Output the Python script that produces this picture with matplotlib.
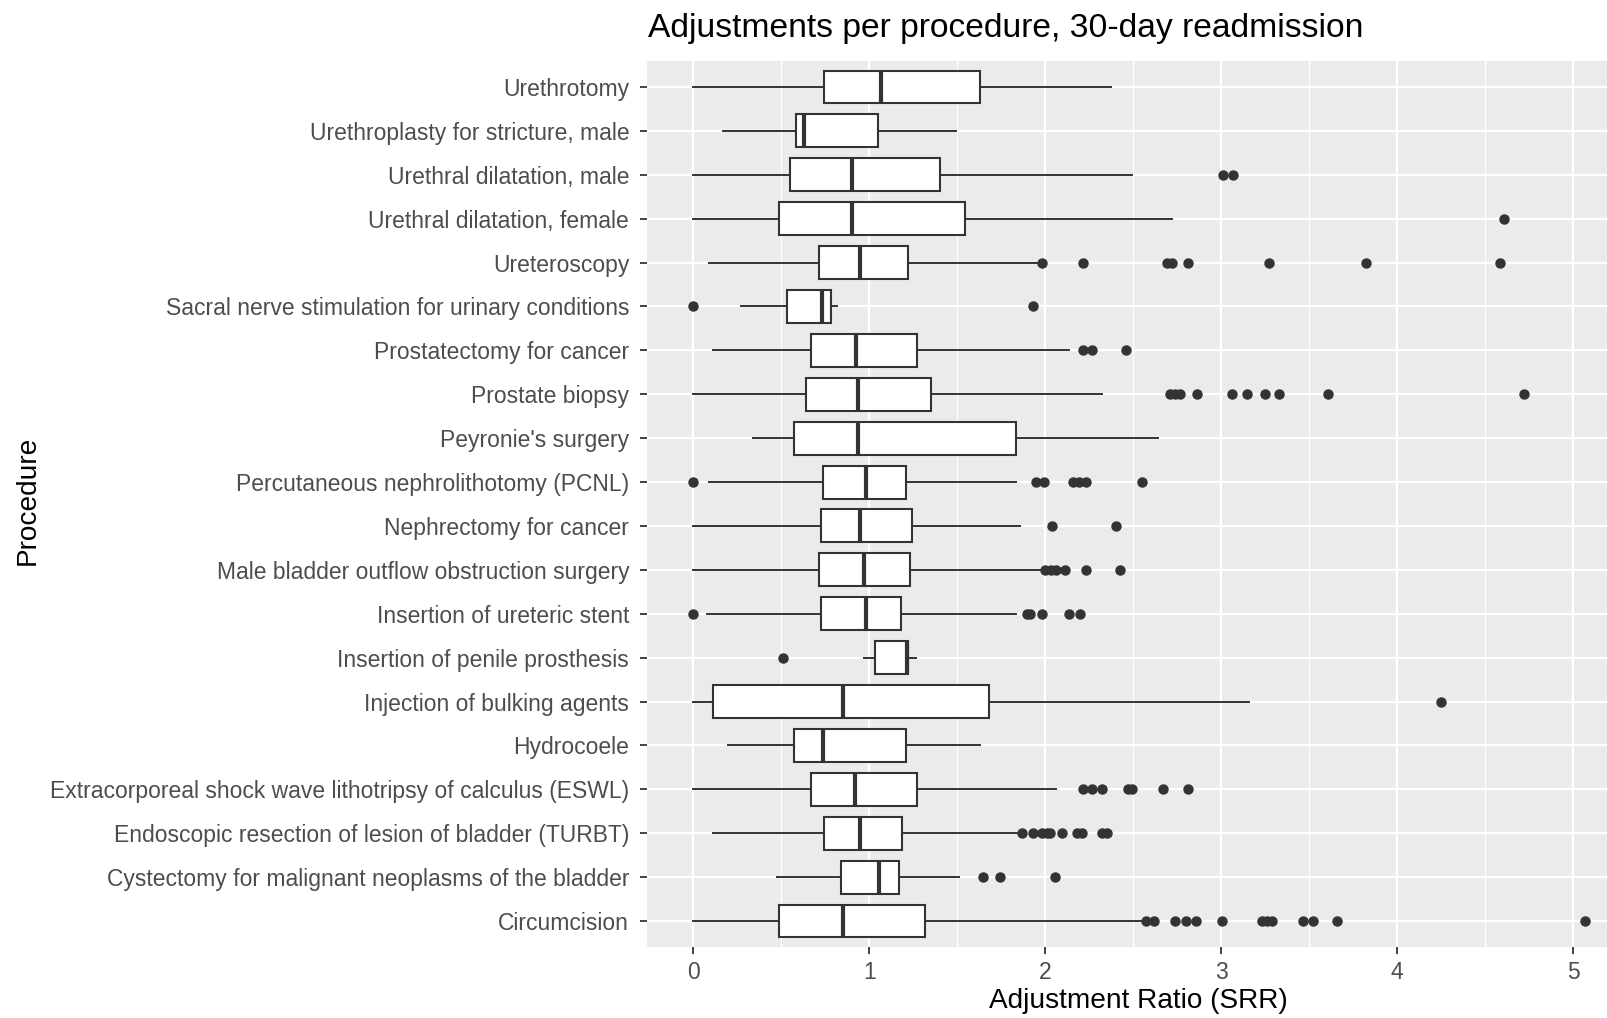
import matplotlib
matplotlib.use("Agg")
import matplotlib.pyplot as plt
from matplotlib.ticker import FixedLocator

categories = [
    "Circumcision",
    "Cystectomy for malignant neoplasms of the bladder",
    "Endoscopic resection of lesion of bladder (TURBT)",
    "Extracorporeal shock wave lithotripsy of calculus (ESWL)",
    "Hydrocoele",
    "Injection of bulking agents",
    "Insertion of penile prosthesis",
    "Insertion of ureteric stent",
    "Male bladder outflow obstruction surgery",
    "Nephrectomy for cancer",
    "Percutaneous nephrolithotomy (PCNL)",
    "Peyronie's surgery",
    "Prostate biopsy",
    "Prostatectomy for cancer",
    "Sacral nerve stimulation for urinary conditions",
    "Ureteroscopy",
    "Urethral dilatation, female",
    "Urethral dilatation, male",
    "Urethroplasty for stricture, male",
    "Urethrotomy",
]

whislo = [0, 0.474, 0.110, 0, 0.195, 0, 0.970, 0.076, 0, 0, 0.089, 0.338, 0, 0.110, 0.271, 0.089, 0, 0, 0.170, 0]
q1 = [0.487, 0.841, 0.744, 0.670, 0.572, 0.114, 1.034, 0.724, 0.714, 0.724, 0.735, 0.574, 0.639, 0.670, 0.531, 0.714, 0.487, 0.551, 0.584, 0.744]
med = [0.849, 1.053, 0.945, 0.920, 0.740, 0.849, 1.214, 0.980, 0.972, 0.947, 0.980, 0.936, 0.934, 0.924, 0.730, 0.945, 0.902, 0.900, 0.631, 1.065]
q3 = [1.316, 1.167, 1.188, 1.273, 1.210, 1.682, 1.222, 1.178, 1.231, 1.241, 1.210, 1.834, 1.349, 1.273, 0.781, 1.220, 1.542, 1.403, 1.049, 1.629]
whishi = [2.557, 1.511, 1.843, 2.061, 1.631, 3.159, 1.264, 1.834, 1.989, 1.856, 1.834, 2.642, 2.320, 2.136, 0.815, 1.951, 2.718, 2.494, 1.493, 2.373]

fliers = [
    [2.572, 2.617, 2.735, 2.799, 2.856, 3.004, 3.229, 3.257, 3.286, 3.462, 3.519, 3.659, 5.066],
    [1.648, 1.743, 2.055],
    [1.866, 1.928, 1.980, 2.008, 2.027, 2.093, 2.178, 2.207, 2.320, 2.349],
    [2.212, 2.267, 2.322, 2.472, 2.491, 2.670, 2.809],
    [],
    [4.248],
    [0.511],
    [0.0, 1.894, 1.913, 1.983, 2.134, 2.197],
    [2.000, 2.030, 2.060, 2.112, 2.230, 2.424],
    [2.036, 2.402],
    [0.0, 1.947, 1.994, 2.159, 2.193, 2.230, 2.551],
    [],
    [2.709, 2.737, 2.766, 2.864, 3.059, 3.144, 3.250, 3.326, 3.605, 4.722],
    [2.216, 2.264, 2.457],
    [0.0, 1.928],
    [1.983, 2.216, 2.690, 2.720, 2.809, 3.271, 3.820, 4.584],
    [4.604],
    [3.011, 3.068],
    [],
    [],
]

x_ticks = [0, 1, 2, 3, 4, 5]
title = "Adjustments per procedure, 30-day readmission"
xlabel = "Adjustment Ratio (SRR)"
ylabel = "Procedure"

plt.rcParams['font.family'] = ['Liberation Sans', 'DejaVu Sans']

W, H = 1608, 1018
fig = plt.figure(figsize=(W / 100, H / 100), dpi=100)
left, right, top, bottom = 647.3, 1608, 60.7, 947.3
ax = fig.add_axes([left / W, 1 - bottom / H, (right - left) / W, (bottom - top) / H])

stats = []
for i in range(len(categories)):
    stats.append(dict(whislo=whislo[i], q1=q1[i], med=med[i], q3=q3[i],
                      whishi=whishi[i], fliers=fliers[i], label=categories[i]))

dark = "#333333"
positions = list(range(1, len(categories) + 1))
ax.bxp(stats, positions=positions, vert=False, widths=0.75, patch_artist=True,
       showcaps=False, showfliers=True,
       boxprops=dict(facecolor="white", edgecolor=dark, linewidth=1.5),
       whiskerprops=dict(color=dark, linewidth=1.4),
       medianprops=dict(color=dark, linewidth=3.0, solid_capstyle="butt"),
       flierprops=dict(marker="o", markerfacecolor=dark, markeredgecolor=dark,
                       markersize=6.5, linestyle="none"),
       zorder=3)

ax.set_facecolor("#EBEBEB")
for s in ax.spines.values():
    s.set_visible(False)

ax.set_xlim(-0.261, (1608 - 693.3) / 176.0)
ax.set_ylim(0.4, len(categories) + 0.6)

ax.xaxis.set_major_locator(FixedLocator(x_ticks))
ax.xaxis.set_minor_locator(FixedLocator([0.5, 1.5, 2.5, 3.5, 4.5]))
ax.set_xticklabels([str(t) for t in x_ticks])
ax.set_yticks(positions)
ax.set_yticklabels(categories)

ax.grid(which="major", axis="both", color="white", linewidth=1.6, zorder=0)
ax.grid(which="minor", axis="x", color="white", linewidth=0.8, zorder=0)
ax.set_axisbelow(True)

ax.tick_params(axis="both", which="major", length=5, width=1.3, color=dark,
               labelcolor="#4D4D4D", labelsize=16.5)
ax.tick_params(axis="y", which="major", pad=8)
ax.tick_params(axis="x", which="major", pad=5)
ax.tick_params(axis="both", which="minor", length=0)

ax.set_xlabel(xlabel, fontsize=20.2, color="black")
ax.xaxis.set_label_coords(0.511, (bottom - 1001) / (bottom - top))
ax.xaxis.label.set_verticalalignment("center")
ax.set_ylabel(ylabel, fontsize=20.2, color="black")
ax.yaxis.set_label_coords((41 - left) / (right - left), 0.5046)

fig.text(648 / W, 1 - 29 / H, title, fontsize=24.2, color="black", ha="left", va="center")

fig.savefig("out.png", dpi=100)
